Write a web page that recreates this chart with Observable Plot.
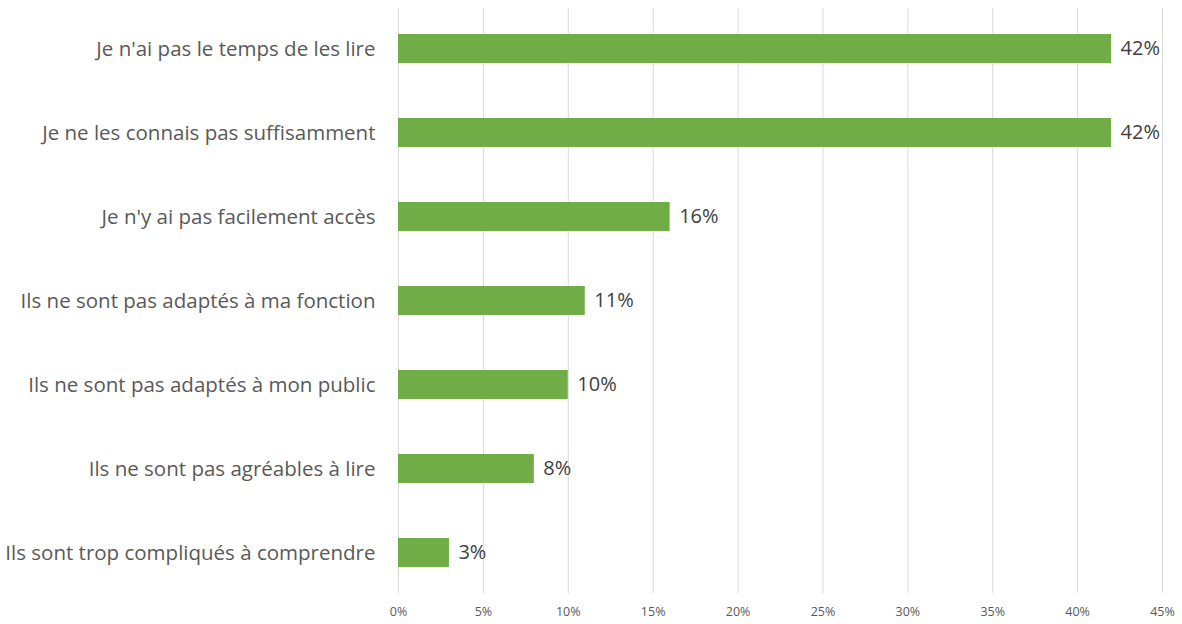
<!DOCTYPE html>
<html>
<head>
<meta charset="utf-8">
<script src="https://cdn.jsdelivr.net/npm/d3@7"></script>
<script src="https://cdn.jsdelivr.net/npm/@observablehq/plot@0.6"></script>
<style>
  html, body { margin: 0; padding: 0; background: #fff; }
</style>
</head>
<body>
<div id="chart"></div>
<script>
const categories = [
  "Je n'ai pas le temps de les lire",
  "Je ne les connais pas suffisamment",
  "Je n'y ai pas facilement accès",
  "Ils ne sont pas adaptés à ma fonction",
  "Ils ne sont pas adaptés à mon public",
  "Ils ne sont pas agréables à lire",
  "Ils sont trop compliqués à comprendre"
];
const values = [0.42, 0.42, 0.16, 0.11, 0.10, 0.08, 0.03];
const xTicks = [0, 0.05, 0.10, 0.15, 0.20, 0.25, 0.30, 0.35, 0.40, 0.45];

const data = categories.map((c, i) => ({category: c, value: values[i]}));

const chart = Plot.plot({
  width: 1182,
  height: 624,
  marginLeft: 398,
  marginRight: 20,
  marginTop: 8,
  marginBottom: 31,
  style: {fontFamily: "'Open Sans', Lato, sans-serif", background: "#fff"},
  x: {domain: [0, 0.45], ticks: xTicks, tickFormat: d => Math.round(d * 100) + "%", label: null},
  y: {domain: categories, label: null, paddingInner: 0.65, paddingOuter: 0.27},
  marks: [
    Plot.gridX(xTicks, {stroke: "#d9d9d9", strokeOpacity: 1, strokeWidth: 1}),
    Plot.axisX({ticks: xTicks, tickFormat: d => Math.round(d * 100) + "%", tickSize: 0, tickPadding: 14, fontSize: 12.5, color: "#595959", label: null}),
    Plot.axisY({tickSize: 0, tickPadding: 23, fontSize: 20.5, color: "#595959", label: null}),
    Plot.barX(data, {x: "value", y: "category", fill: "#70AD47"}),
    Plot.text(data, {x: "value", y: "category", text: d => Math.round(d.value * 100) + "%", textAnchor: "start", dx: 9, fontSize: 20, fill: "#404040"})
  ]
});
document.getElementById("chart").appendChild(chart);
</script>
</body>
</html>
